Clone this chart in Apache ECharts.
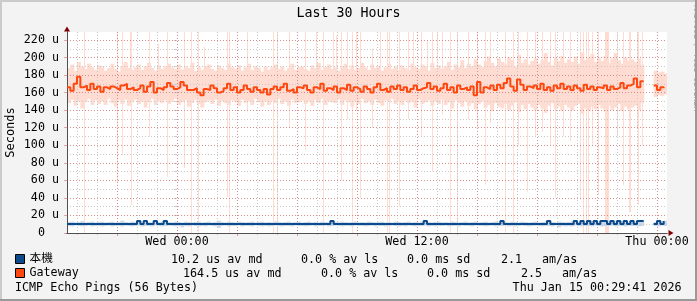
<!DOCTYPE html>
<html><head><meta charset="utf-8">
<script src="https://cdn.jsdelivr.net/npm/echarts@6/dist/echarts.min.js"></script>
<style>html,body{margin:0;padding:0;background:#f3f3f3}#c{width:697px;height:301px}</style>
</head><body><div id="c"></div>
<script>
// ---- time base: hours relative to Wed 00:00, 10-minute steps ----
const START = -5.5;
const STEP = 1 / 6;
const X_MIN = -5.5, X_MAX = 24.5;
const Y_MAX = 229.1;
const xLabelValues = [0, 12, 24];
const xLabelText = ['Wed 00:00', 'Wed 12:00', 'Thu 00:00'];
const yLabelValues = [0, 20, 40, 60, 80, 100, 120, 140, 160, 180, 200, 220];
const seriesNames = ['本機', 'Gateway'];
const legendStats = [
  [['10.2 us av md', 171], ['0.0 % av ls', 301], ['0.0 ms sd', 407], ['2.1', 501], ['am/as', 542]],
  [['164.5 us av md', 183], ['0.0 % av ls', 321], ['0.0 ms sd', 427], ['2.5', 521], ['am/as', 562]]
];

// ---- Gateway: median and smoke band (us) ----
const gwMed = [
166,162,170,178,166,168,163,170,164,167,
161,166,164,167,165,163,168,170,164,166,
163,165,168,161,167,172,160,165,163,166,
171,167,164,166,172,168,163,163,165,160,
157,164,163,168,165,160,162,165,170,163,
166,160,163,168,164,161,166,163,160,164,
158,164,167,163,166,170,162,164,160,166,
165,168,163,160,166,164,170,162,165,163,
167,160,165,163,169,162,166,164,161,167,
164,160,166,170,163,165,161,167,164,168,
163,166,161,164,168,163,165,166,171,164,
167,162,165,170,163,166,160,168,164,166,
163,167,157,172,160,166,164,168,163,169,
165,171,176,167,162,175,169,163,167,165,
168,164,170,163,166,162,168,165,170,164,
167,163,168,165,162,169,164,167,163,166,
165,168,163,167,164,166,171,165,168,170,
176,166,173,null,null,null,168,163,166,165
];
const gwHi = [
188,192,185,195,190,187,193,189,186,191,
190,185,188,193,187,184,190,195,188,186,
189,192,186,190,194,188,185,191,187,190,
193,189,187,192,186,190,188,194,185,189,
186,190,192,187,185,191,188,186,193,189,
187,191,185,189,193,186,190,188,184,190,
186,189,192,187,190,185,188,193,186,189,
190,187,185,191,188,194,186,189,192,187,
189,185,190,193,187,191,186,188,194,189,
186,192,188,190,185,189,193,187,190,186,
191,188,186,193,189,187,192,190,185,194,
188,191,187,190,195,186,192,189,197,188,
193,190,198,192,189,196,201,194,190,199,
195,192,200,197,190,203,194,198,192,196,
199,193,197,205,195,191,200,196,202,194,
198,195,201,193,206,197,199,204,195,200,
196,202,194,199,205,197,193,200,196,198,
195,199,192,null,null,null,185,183,184,182
];
const gwLo = [
148,152,145,150,142,149,153,146,151,147,
150,146,153,148,144,151,147,152,145,149,
152,147,150,143,149,153,146,150,148,151,
147,150,153,146,149,151,144,148,152,147,
143,149,151,147,152,145,150,148,146,151,
149,145,152,148,150,146,153,149,144,150,
146,151,148,153,147,150,145,152,148,149,
151,147,150,145,152,148,153,146,150,149,
148,152,146,151,149,144,150,147,153,148,
150,146,152,148,145,151,149,153,147,150,
146,151,148,150,143,152,147,149,151,145,
150,147,152,146,149,142,151,148,144,150,
145,148,141,147,150,143,146,139,148,144,
142,147,140,145,149,138,146,141,147,143,
140,146,142,137,145,148,141,144,139,146,
143,140,145,147,136,142,139,144,141,146,
142,138,145,140,143,147,139,144,141,143,
145,140,148,null,null,null,155,157,156,158
];
// individual outlier pings: [hour, low, high]
const gwSpikes = [
[-4.65,0,229],[-3.0,57,229],[-2.75,89,229],[-2.35,150,229],[-2.3,32,229],[-1.4,110,229],
[-0.95,150,215],[-0.5,64,229],[0.35,74,229],[0.7,0,229],[1.05,0,229],[1.35,150,212],
[2.5,41,229],[2.6,0,229],[3.5,140,229],[4.8,0,229],[5.0,0,229],[5.6,120,229],
[6.4,95,229],[6.95,150,229],[7.3,0,229],[7.8,150,229],[7.95,150,225],[8.2,60,229],
[8.5,130,229],[8.75,0,229],[8.95,140,229],[9.15,40,229],[9.75,120,210],[10.15,150,229],
[10.5,0,229],[10.6,0,229],[11.1,30,229],[11.55,130,229],[11.8,150,229],[12.2,110,229],
[12.5,150,220],[12.75,70,229],[13.0,150,229],[13.25,135,229],[13.65,0,229],[14.0,0,229],
[14.55,130,229],[15.0,120,229],[15.4,55,229],[15.65,125,229],[16.4,0,229],[16.8,0,229],
[17.05,100,229],[17.5,47,229],[17.9,110,229],[18.25,115,229],[18.65,100,229],[18.9,41,229],
[19.3,110,229],[19.65,105,229],[20.15,38,229],[20.3,0,229],[20.45,0,229],[20.55,0,229],
[20.75,100,229],[21.05,44,229],[21.4,0,229],[21.45,0,229],[21.5,0,229],[21.55,0,229],
[22.0,110,229],[22.3,55,229],[22.6,24,229],[22.65,24,229],[23.0,120,229],[23.05,32,229],
[23.25,100,229]
];

// ---- 本機: median and smoke band (us) ----
const blMed = [
10.2,10.2,10.2,10.2,10.2,10.2,10.2,10.2,10.2,10.2,
10.2,10.2,10.2,10.2,10.2,10.2,10.2,10.2,10.2,10.2,
10.2,13.6,10.2,13.6,10.2,10.2,13.6,10.2,10.2,13.6,
10.2,10.2,10.2,10.2,10.2,10.2,10.2,10.2,10.2,10.2,
10.2,10.2,10.2,10.2,10.2,10.2,10.2,10.2,10.2,10.2,
10.2,10.2,10.2,10.2,10.2,10.2,10.2,10.2,10.2,10.2,
10.2,10.2,10.2,10.2,10.2,10.2,10.2,10.2,10.2,10.2,
10.2,10.2,10.2,10.2,10.2,10.2,10.2,10.2,10.2,13.6,
10.2,10.2,10.2,10.2,10.2,10.2,10.2,10.2,10.2,10.2,
10.2,10.2,10.2,10.2,10.2,10.2,10.2,10.2,10.2,10.2,
10.2,10.2,10.2,10.2,10.2,10.2,10.2,13.6,10.2,10.2,
10.2,10.2,10.2,10.2,10.2,10.2,10.2,10.2,10.2,10.2,
10.2,10.2,10.2,10.2,10.2,10.2,10.2,10.2,10.2,10.2,
13.6,10.2,10.2,10.2,10.2,10.2,10.2,10.2,10.2,10.2,
10.2,10.2,10.2,10.2,13.6,10.2,10.2,10.2,10.2,10.2,
10.2,10.2,13.6,10.2,13.6,10.2,13.6,10.2,13.6,10.2,
13.6,13.6,10.2,13.6,10.2,13.6,10.2,13.6,10.2,13.6,
10.2,13.6,13.6,null,null,null,10.2,13.6,10.2,13.6
];
const blHi = [
12.5,13,12,12.5,13.5,12,12.5,13,12,12.5,
13,12,12.5,13,12,12.5,14,12.5,12,13,
12.5,13,12,13.5,12.5,12,13,12.5,13,14,
12.5,12,13,12.5,12,13,12.5,12,12.5,13,
12,12.5,13,12,12.5,14,12.5,12,13,12.5,
12,13,12.5,12,12.5,13,12,12.5,13,12,
12.5,12,13,12.5,12,12.5,13,12,12.5,13,
12,12.5,13,12,12.5,12,13,12.5,12,14,
12.5,12,13,12.5,12,12.5,13,12,12.5,12,
13,12.5,12,12.5,13,12,12.5,12,13,12.5,
12,12.5,13,12,12.5,12,13,14,12.5,12,
12.5,13,12,12.5,12,13,12.5,12,12.5,13,
12,12.5,13,12,12.5,13,12,12.5,13,12.5,
14,12.5,12,13,12.5,12,13,12.5,12,12.5,
13,12,12.5,13,14,12.5,12,13,12.5,12,
12.5,13,14,12.5,14,13,14,14,14,13,
14,14,14,13,14,14,13,14,12.5,14,
13,14,14,null,null,null,12.5,14,13,14
];
const blLo = [
8,7.5,8.5,8,7.5,8,8.5,7.5,8,8,
7.5,8,8.5,7.5,8,8,7.5,8.5,8,7.5,
8,8.5,7.5,8,8,7.5,8.5,8,7.5,8,
8.5,8,7.5,8,6.5,8,7.5,8.5,8,7.5,
8,7.5,8.5,8,7.5,6,8,8.5,7.5,8,
8,8.5,7.5,8,8,7.5,8.5,8,7.5,8,
7.5,8,8.5,8,7.5,8,8,7.5,8.5,8,
8,7.5,8,8.5,7.5,8,8,8.5,7.5,8,
8.5,8,7.5,8,8,7.5,8.5,8,8,7.5,
8,8.5,7.5,8,8,7.5,8,8.5,8,7.5,
8,7.5,8.5,8,7.5,8,8,8.5,7.5,8,
7.5,8,8,8.5,7.5,8,8,7.5,8.5,8,
8,7.5,8.5,8,8,7.5,8,8.5,7.5,8,
8,8.5,7.5,8,7.5,8,8.5,8,7.5,8,
8.5,8,7.5,8,8,7.5,8.5,6.5,8,7.5,
8,7.5,8.5,8,7.5,8,8,7.5,8.5,8,
7.5,8,8,8.5,7.5,8,8,7.5,8.5,8,
8,7.5,8,null,null,null,8,7.5,8.5,8
];

// ---- styling ----
const MONO = "'DejaVu Sans Mono', 'Noto Sans CJK TC', monospace";
const FS = 11.7;
const BLUE = '#0d4a8c', ORANGE = '#ff4810';
const BLUE_SMOKE = '#cad8e8', ORANGE_SMOKE = '#ffdcd1';
const MAJOR = 'rgba(224,80,80,0.5)', MINOR = '#c8c8c8';

const times = gwMed.map((_, i) => START + i * STEP);
const linePairs = arr => arr.map((v, i) => [times[i], v]);
const bandTriples = (lo, hi) => lo.map((v, i) => [times[i], v, hi[i]]);

function bandRender(color) {
  return function (params, api) {
    const lo = api.value(1), hi = api.value(2);
    if (isNaN(lo) || isNaN(hi)) return;
    const t = api.value(0);
    const p1 = api.coord([t, hi]);
    const p2 = api.coord([t + STEP, lo]);
    return { type: 'rect', shape: { x: p1[0], y: p1[1], width: p2[0] - p1[0] + 0.6, height: p2[1] - p1[1] },
             style: { fill: color } };
  };
}
function spikeRender(color) {
  return function (params, api) {
    const t = api.value(0);
    const p1 = api.coord([t, api.value(2)]);
    const p2 = api.coord([t, api.value(1)]);
    return { type: 'rect', shape: { x: Math.round(p1[0]), y: p1[1], width: 1, height: p2[1] - p1[1] },
             style: { fill: color } };
  };
}

const hourTicks = []; for (let h = -5; h <= 24; h++) hourTicks.push(h);
const majorTicks = []; for (let h = -3; h <= 24; h += 3) majorTicks.push(h);
const minorY = []; for (let v = 0; v <= 220; v += 10) minorY.push(v);

const statGraphics = [];
legendStats.forEach((row, r) => {
  row.forEach(([txt, x]) => {
    statGraphics.push({ type: 'text', x: x, y: 259.5 + r * 14,
      style: { text: txt, font: FS + 'px ' + MONO, fill: '#000', verticalAlign: 'middle' } });
  });
});

const chart = echarts.init(document.getElementById('c'), null, { renderer: 'canvas' });
chart.setOption({
  animation: false,
  backgroundColor: '#f3f3f3',
  title: { text: 'Last 30 Hours', left: 'center', top: 6, padding: 0,
    textStyle: { fontFamily: MONO, fontSize: 13.3, fontWeight: 'normal', color: '#000', lineHeight: 16 } },
  grid: { left: 67, top: 32, width: 600, height: 201, containLabel: false, outerBoundsMode: 'none',
    backgroundColor: '#ffffff', show: true, borderWidth: 0 },
  legend: { data: [
      { name: seriesNames[0], icon: 'rect', itemStyle: { color: BLUE, borderColor: '#000', borderWidth: 1 } },
      { name: seriesNames[1], icon: 'rect', itemStyle: { color: ORANGE, borderColor: '#000', borderWidth: 1 } }],
    orient: 'vertical', left: 15, top: 252, padding: 0, itemGap: 0, itemWidth: 9, itemHeight: 9,
    selectedMode: false,
    textStyle: { fontFamily: MONO, fontSize: FS, color: '#000', lineHeight: 14 } },
  xAxis: [
    { type: 'value', min: X_MIN, max: X_MAX, position: 'bottom', offset: 0, z: 6,
      axisLine: { show: true, onZero: false, lineStyle: { color: '#505050', width: 1 } },
      axisTick: { show: false },
      axisLabel: { customValues: xLabelValues, formatter: v => xLabelText[xLabelValues.indexOf(v)],
        fontFamily: MONO, fontSize: FS, color: '#000', margin: 3, hideOverlap: false },
      splitLine: { show: false } },
    { type: 'value', min: X_MIN, max: X_MAX, position: 'bottom', offset: 0, z: 3,
      axisLine: { show: false }, axisLabel: { show: false },
      axisTick: { show: true, customValues: hourTicks, length: 2, lineStyle: { color: MINOR } },
      splitLine: { show: true, lineStyle: { color: MINOR, type: [1, 2] } } },
    { type: 'value', min: X_MIN, max: X_MAX, position: 'bottom', offset: 0, z: 4,
      axisLine: { show: true, onZero: false, symbol: ['none', 'triangle'], symbolSize: [6, 5], symbolOffset: [0, 4],
        lineStyle: { color: '#800000', width: 1 } },
      axisLabel: { show: false },
      axisTick: { show: true, customValues: majorTicks, length: 3, lineStyle: { color: MAJOR } },
      splitLine: { show: true, lineStyle: { color: MAJOR, type: [1, 2] } } }
  ],
  yAxis: [
    { type: 'value', min: 0, max: Y_MAX, position: 'left', offset: 0, z: 6,
      axisLine: { show: true, onZero: false, lineStyle: { color: '#505050', width: 1 } },
      axisTick: { show: true, customValues: yLabelValues, length: 3, lineStyle: { color: MAJOR } },
      axisLabel: { customValues: yLabelValues, formatter: v => v === 0 ? '0  ' : v + ' u',
        fontFamily: MONO, fontSize: FS, color: '#000', margin: 8 },
      splitLine: { show: true, lineStyle: { color: MAJOR, type: [1, 2] } },
      name: 'Seconds', nameLocation: 'middle', nameRotate: 90, nameGap: 50, nameMoveOverlap: false,
      nameTextStyle: { fontFamily: MONO, fontSize: 12, color: '#000' } },
    { type: 'value', min: 0, max: Y_MAX, position: 'left', offset: 0, z: 3,
      axisLine: { show: false }, axisLabel: { show: false },
      axisTick: { show: true, customValues: minorY, length: 3, lineStyle: { color: MINOR } },
      splitLine: { show: true, lineStyle: { color: MINOR, type: [1, 2] } } },
    { type: 'value', min: 0, max: Y_MAX, position: 'left', offset: 0, z: 4,
      axisLine: { show: true, onZero: false, symbol: ['none', 'triangle'], symbolSize: [6, 5], symbolOffset: [0, 3],
        lineStyle: { color: '#800000', width: 1 } },
      axisLabel: { show: false }, axisTick: { show: false }, splitLine: { show: false } }
  ],
  series: [
    { name: 'gwSmoke', type: 'custom', z: 1, silent: true, clip: true,
      renderItem: bandRender(ORANGE_SMOKE), encode: { x: 0, y: [1, 2] }, data: bandTriples(gwLo, gwHi) },
    { name: 'gwSpikes', type: 'custom', z: 1, silent: true, clip: true,
      renderItem: spikeRender(ORANGE_SMOKE), encode: { x: 0, y: [1, 2] }, data: gwSpikes },
    { name: 'blSmoke', type: 'custom', z: 1, silent: true, clip: true,
      renderItem: bandRender(BLUE_SMOKE), encode: { x: 0, y: [1, 2] }, data: bandTriples(blLo, blHi) },
    { name: seriesNames[1], type: 'line', z: 8, step: 'end', showSymbol: false, connectNulls: false,
      color: ORANGE, lineStyle: { width: 2, color: ORANGE }, data: linePairs(gwMed) },
    { name: seriesNames[0], type: 'line', z: 8, step: 'end', showSymbol: false, connectNulls: false,
      color: BLUE, lineStyle: { width: 2, color: BLUE }, data: linePairs(blMed) }
  ],
  graphic: [
    { type: 'rect', shape: { x: 0, y: 0, width: 697, height: 2 }, style: { fill: '#cbcbcb' }, silent: true },
    { type: 'rect', shape: { x: 0, y: 0, width: 2, height: 301 }, style: { fill: '#cbcbcb' }, silent: true },
    { type: 'rect', shape: { x: 0, y: 299, width: 697, height: 2 }, style: { fill: '#999999' }, silent: true },
    { type: 'rect', shape: { x: 695, y: 0, width: 2, height: 301 }, style: { fill: '#999999' }, silent: true },
    { type: 'text', x: 692, y: 5, rotation: -Math.PI / 2,
      style: { text: 'RRDTOOL / TOBI OETIKER', font: '8px ' + MONO, fill: '#a0a0a0', verticalAlign: 'bottom' } },
    { type: 'text', x: 15, y: 287.5,
      style: { text: 'ICMP Echo Pings (56 Bytes)', font: FS + 'px ' + MONO, fill: '#000', verticalAlign: 'middle' } },
    { type: 'text', x: 681.5, y: 287.5,
      style: { text: 'Thu Jan 15 00:29:41 2026', font: FS + 'px ' + MONO, fill: '#000', align: 'right', verticalAlign: 'middle' } }
  ].concat(statGraphics)
});
</script></body></html>
